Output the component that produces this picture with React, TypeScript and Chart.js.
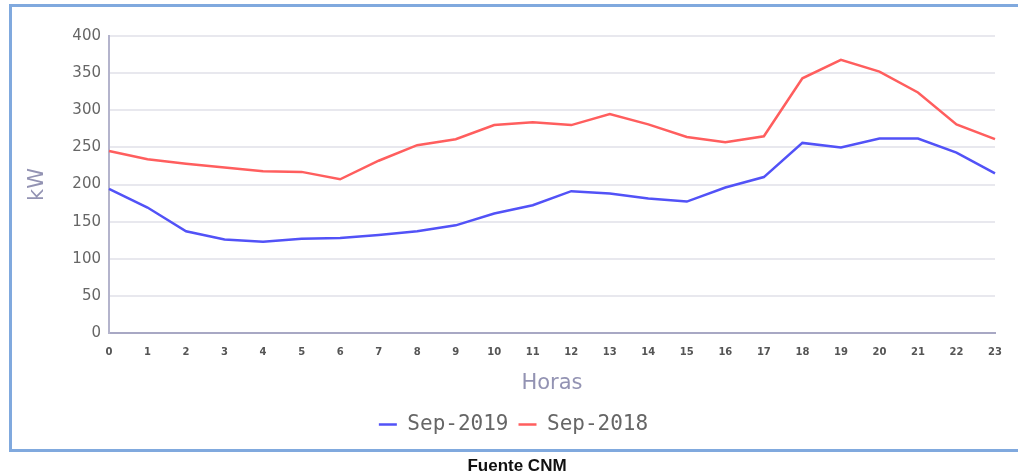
import React, { useEffect, useRef } from "react";
import { Chart, registerables } from "chart.js";

Chart.register(...registerables);

const hours = ["0", "1", "2", "3", "4", "5", "6", "7", "8", "9", "10", "11", "12", "13", "14", "15", "16", "17", "18", "19", "20", "21", "22", "23"];
const sep2019 = [194, 169, 137, 126, 123, 127, 128, 132, 137, 145, 161, 172, 191, 188, 181, 177, 196, 210, 256, 250, 262, 262, 243, 215];
const sep2018 = [245, 234, 228, 223, 218, 217, 207, 232, 253, 261, 280, 284, 280, 295, 281, 264, 257, 265, 343, 368, 352, 324, 281, 261];
const seriesNames = ["Sep-2019", "Sep-2018"];
const yTitle = "kW";
const xTitle = "Horas";
const sourceText = "Fuente CNM";

export default function App() {
  const ref = useRef<HTMLCanvasElement | null>(null);

  useEffect(() => {
    if (!ref.current) return;
    const chart = new Chart(ref.current, {
      type: "line",
      data: {
        labels: hours,
        datasets: [
          {
            label: seriesNames[0],
            data: sep2019,
            borderColor: "#5252f7",
            backgroundColor: "#5252f7",
            borderWidth: 2.5,
            pointRadius: 0,
            tension: 0,
          },
          {
            label: seriesNames[1],
            data: sep2018,
            borderColor: "#ff5e5e",
            backgroundColor: "#ff5e5e",
            borderWidth: 2.5,
            pointRadius: 0,
            tension: 0,
          },
        ],
      },
      options: {
        animation: false,
        responsive: false,
        maintainAspectRatio: false,
        layout: { padding: { left: 32, right: 23, top: 36, bottom: 31 } },
        font: { family: "DejaVu Sans" },
        plugins: {
          tooltip: { enabled: false },
          legend: {
            position: "bottom",
            labels: {
              usePointStyle: true,
              pointStyle: "line",
              pointStyleWidth: 18,
              color: "#666666",
              padding: 10,
              font: { family: "DejaVu Sans Mono", size: 21 },
            },
          },
        },
        scales: {
          x: {
            type: "category",
            offset: false,
            grid: { display: false, drawTicks: false },
            border: { display: true, color: "#a8a8c4", width: 2 },
            ticks: {
              color: "#555555",
              padding: 13,
              maxRotation: 0,
              autoSkip: false,
              font: { family: "DejaVu Sans", size: 10, weight: "bold" },
            },
            title: {
              display: true,
              text: xTitle,
              color: "#9393b3",
              padding: { top: 0, bottom: 8 },
              font: { family: "DejaVu Sans", size: 21 },
            },
            afterFit: (scale: any) => {
              scale.height = 71;
            },
          },
          y: {
            min: 0,
            max: 400,
            grid: { color: "#e8e8ee", lineWidth: 2, drawTicks: false },
            border: { display: true, color: "#b4b4cc", width: 2 },
            ticks: {
              stepSize: 50,
              color: "#666666",
              padding: 8,
              font: { family: "DejaVu Sans", size: 15 },
            },
            title: {
              display: true,
              text: yTitle,
              color: "#9393b3",
              padding: { top: -6.6, bottom: 0 },
              font: { family: "DejaVu Sans", size: 21 },
            },
            afterFit: (scale: any) => {
              scale.width = 77;
            },
          },
        },
      },
    });
    return () => chart.destroy();
  }, []);

  return (
    <div
      style={{
        position: "fixed",
        left: 0,
        top: 0,
        width: 1018,
        height: 476,
        overflow: "hidden",
        background: "#ffffff",
      }}
    >
      <canvas
        ref={ref}
        width={1018}
        height={476}
        style={{ position: "absolute", left: 0, top: 0, width: 1018, height: 476 }}
      />
      <div
        style={{
          position: "absolute",
          left: 9,
          top: 4,
          width: 1030,
          height: 448,
          boxSizing: "border-box",
          border: "3px solid #80a9de",
          pointerEvents: "none",
        }}
      />
      <div
        style={{
          position: "absolute",
          left: 417,
          top: 456,
          width: 200,
          textAlign: "center",
          fontFamily: "'Liberation Sans', Arial, sans-serif",
          fontWeight: "bold",
          fontSize: 17,
          lineHeight: "20px",
          color: "#111111",
        }}
      >
        {sourceText}
      </div>
    </div>
  );
}
